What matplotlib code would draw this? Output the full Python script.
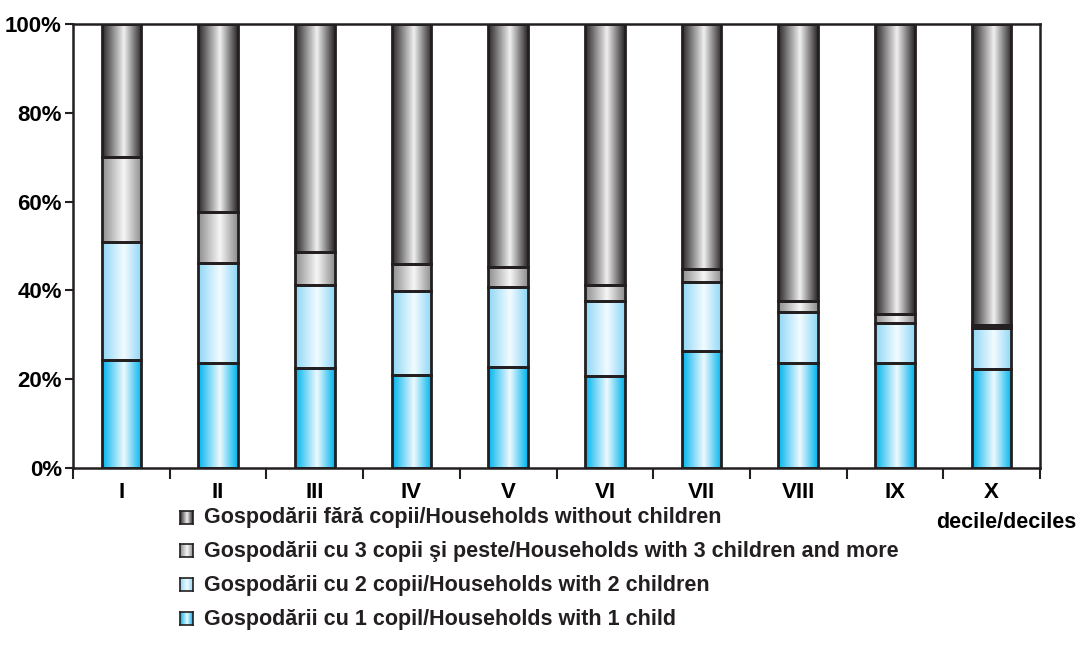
import numpy as np
import matplotlib
matplotlib.use("Agg")
import matplotlib.pyplot as plt
from matplotlib.colors import LinearSegmentedColormap

plt.rcParams['font.family'] = ['Liberation Sans', 'DejaVu Sans']
plt.rcParams['font.weight'] = 'bold'

deciles = ['I', 'II', 'III', 'IV', 'V', 'VI', 'VII', 'VIII', 'IX', 'X']
one_child = [24.3, 23.7, 22.6, 20.9, 22.8, 20.8, 26.4, 23.6, 23.7, 22.2]
two_children = [26.7, 22.4, 18.7, 19.0, 17.9, 16.9, 15.4, 11.6, 9.0, 9.4]
three_plus = [19.0, 11.6, 7.4, 6.0, 4.5, 3.5, 3.0, 2.4, 1.9, 0.6]
no_children = [30.0, 42.3, 51.3, 54.1, 54.8, 58.8, 55.2, 62.4, 65.4, 67.8]

labels = ['Gospodării fără copii/Households without children',
          'Gospodării cu 3 copii şi peste/Households with 3 children and more',
          'Gospodării cu 2 copii/Households with 2 children',
          'Gospodării cu 1 copil/Households with 1 child']

# gradient colours (edge, centre) for each series, bottom to top
grads = [('#00b4ee', '#eef9fe'), ('#8ed7f6', '#f2fbff'),
         ('#8e8e90', '#f6f6f6'), ('#2b2729', '#f0f0f0')]
cmaps = [LinearSegmentedColormap.from_list('g%d' % i, [(0, a), (0.55, b), (1, a)])
         for i, (a, b) in enumerate(grads)]
ramp = np.linspace(0, 1, 64).reshape(1, -1)
edge = '#231f20'

fig = plt.figure(figsize=(10.78, 6.6), dpi=100)
ax = fig.add_axes([73 / 1078, 1 - 468 / 660, 967 / 1078, 444 / 660])

x = np.arange(len(deciles))
w = 0.41
series = [one_child, two_children, three_plus, no_children]
bottom = np.zeros(len(deciles))
for vals, cm in zip(series, cmaps):
    vals = np.array(vals)
    bars = ax.bar(x, vals, w, bottom=bottom, facecolor='none',
                  edgecolor=edge, linewidth=2, zorder=3)
    for b, xi, v, b0 in zip(bars, x, vals, bottom):
        im = ax.imshow(ramp, cmap=cm, aspect='auto', zorder=2,
                       extent=[xi - w / 2, xi + w / 2, b0, b0 + v])
        im.set_clip_path(b)
    bottom += vals

ax.set_xlim(-0.5, len(deciles) - 0.5)
ax.set_ylim(0, 100)
ax.set_yticks(range(0, 101, 20))
ax.set_yticklabels(['%d%%' % v for v in range(0, 101, 20)], fontsize=16)
ax.set_xticks(np.arange(-0.5, len(deciles), 1))
ax.set_xticklabels([])
ax.set_xticks(x, minor=True)
ax.set_xticklabels(deciles, minor=True, fontsize=16)
ax.tick_params(axis='x', which='major', direction='out', length=8, width=1.5, color=edge)
ax.tick_params(axis='x', which='minor', length=0, pad=10)
ax.tick_params(axis='y', direction='out', length=6, width=1.5, color=edge, pad=2)
for s in ax.spines.values():
    s.set_linewidth(1.8)
    s.set_color(edge)

fig.text(1076 / 1078, 1 - 522 / 660, 'decile/deciles', ha='right', va='center', fontsize=15.5)

# legend, top entry first
rows = [518, 551, 585, 619]
for i, (lab, cm, yy) in enumerate(zip(labels, cmaps[::-1], rows)):
    lax = fig.add_axes([180 / 1078, 1 - (yy + 6) / 660, 13 / 1078, 13 / 660])
    lax.imshow(ramp, cmap=cm, aspect='auto', extent=[0, 1, 0, 1])
    lax.set_xticks([])
    lax.set_yticks([])
    for s in lax.spines.values():
        s.set_linewidth(1.2)
        s.set_color(edge)
    fig.text(204 / 1078, 1 - yy / 660, lab, ha='left', va='center', fontsize=15.5, color=edge)

fig.savefig('out.png', dpi=100)
